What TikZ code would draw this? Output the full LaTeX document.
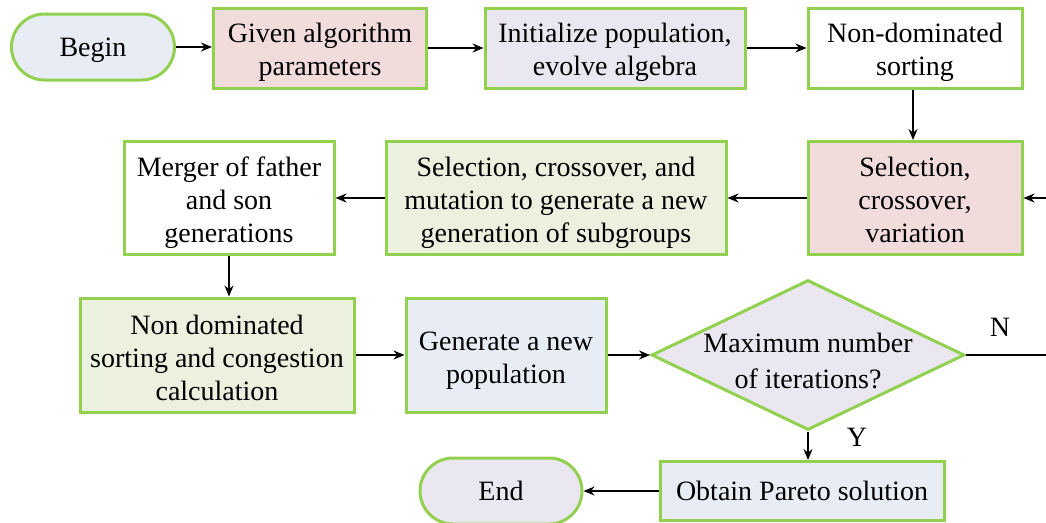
\documentclass[tikz,border=0pt]{standalone}
\usepackage{fontspec}
\setmainfont{Liberation Serif}
\usetikzlibrary{shapes.geometric,arrows.meta}
\definecolor{gborder}{HTML}{92D050}
\definecolor{cpink}{HTML}{F2DCDB}
\definecolor{clav}{HTML}{EAE7F0}
\definecolor{cblue}{HTML}{E8ECF4}
\definecolor{cgreen}{HTML}{EBF1DE}
\begin{document}
\begin{tikzpicture}[x=1pt,y=-1pt,
  font=\fontsize{28}{33}\selectfont,
  box/.style={draw=gborder,line width=3pt,inner sep=0pt},
  term/.style={box,rounded corners=33pt},
  txt/.style={align=center,inner sep=0pt,yshift=-6.5pt,
    execute at begin node=\strut,execute at end node=\strut},
  txtone/.style={txt,yshift=3.5pt},
  arr/.style={-{Stealth[length=11pt,width=9pt]},line width=1.6pt,black},
  ln/.style={line width=1.6pt,black}]
\useasboundingbox (0,0) rectangle (1046,522);
\node[term,fill=cblue,minimum width=163pt,minimum height=66pt] (begin) at (93,47) {};
\node[txtone] (begin-t) at (begin) {Begin};
\node[box,fill=cpink,minimum width=213pt,minimum height=80pt] (given) at (320,48) {};
\node[txt] (given-t) at (given) {Given algorithm\\parameters};
\node[box,fill=clav,minimum width=260pt,minimum height=80pt] (init) at (615,48) {};
\node[txt] (init-t) at (init) {Initialize population,\\evolve algebra};
\node[box,fill=white,minimum width=214pt,minimum height=80pt] (nds) at (915,48) {};
\node[txt] (nds-t) at (nds) {Non-dominated\\sorting};
\node[box,fill=cpink,minimum width=214pt,minimum height=113pt] (scv) at (915,198) {};
\node[txt] (scv-t) at (scv) {Selection,\\crossover,\\variation};
\node[box,fill=cgreen,minimum width=340pt,minimum height=113pt] (scm) at (556,198) {};
\node[txt] (scm-t) at (scm) {Selection, crossover, and\\mutation to generate a new\\generation of subgroups};
\node[box,fill=white,minimum width=210pt,minimum height=113pt] (merge) at (229,198) {};
\node[txt] (merge-t) at (merge) {Merger of father\\and son\\generations};
\node[box,fill=cgreen,minimum width=274pt,minimum height=114pt] (ndc) at (217,355) {};
\node[txt] (ndc-t) at (217,356) {Non dominated\\sorting and congestion\\calculation};
\node[box,fill=cblue,minimum width=200pt,minimum height=114pt] (gen) at (506,355) {};
\node[txt] (gen-t) at (506,356) {Generate a new\\population};
\node[box,diamond,aspect=2.08,fill=clav,minimum width=313pt,minimum height=150pt] (dec) at (808,355) {};
\node[txt,font=\fontsize{28}{36}\selectfont] (dec-t) at (808,359.5) {Maximum number\\of iterations?};
\node[box,fill=cblue,minimum width=284pt,minimum height=59pt] (pareto) at (802,491) {};
\node[txtone] (pareto-t) at (pareto) {Obtain Pareto solution};
\node[term,fill=clav,minimum width=162pt,minimum height=66pt] (end) at (501,491) {};
\node[txtone] (end-t) at (end) {End};
\coordinate (redge) at (1046,198);
\coordinate (nedge) at (1046,355);
\draw[arr] (begin.east) -- (begin.east -| given.west);
\draw[arr] (given.east) -- (given.east -| init.west);
\draw[arr] (init.east) -- (init.east -| nds.west);
\draw[arr] ([xshift=-2pt]nds.south) -- ([xshift=-2pt]nds.south |- scv.north);
\draw[arr] (redge) -- (redge -| scv.east);
\draw[arr] (scv.west) -- (scv.west -| scm.east);
\draw[arr] (scm.west) -- (scm.west -| merge.east);
\draw[arr] (merge.south) -- (merge.south |- ndc.north);
\draw[arr] (ndc.east) -- (ndc.east -| gen.west);
\draw[arr] (gen.east) -- (gen.east -| dec.west);
\draw[ln] (dec.east) -- (nedge);
\node (nlab) at (1000,327) {N};
\draw[arr] (dec.south) -- (dec.south |- pareto.north);
\node (ylab) at (857,437) {Y};
\draw[arr] (pareto.west) -- (pareto.west -| end.east);
\end{tikzpicture}
\end{document}
